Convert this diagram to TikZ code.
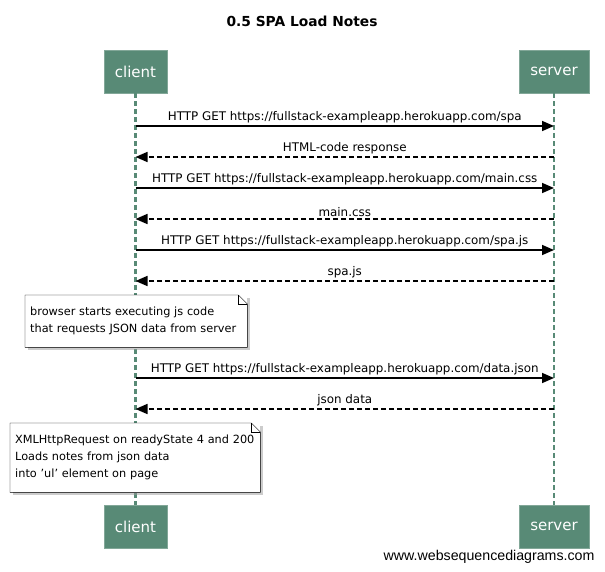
\documentclass[tikz,border=0pt]{standalone}
\usepackage{fontspec}
\setmainfont{DejaVu Sans}
\newfontfamily\footfont{Liberation Sans}
\usetikzlibrary{arrows.meta, shadows}

\definecolor{actorgreen}{RGB}{88,138,118}

\tikzset{
    actor/.style={fill=actorgreen, draw=actorgreen!75!white, text=white, inner xsep=11pt, minimum height=43pt, font=\fontsize{15}{17}\selectfont},
    lifeline/.style={actorgreen, line width=2.5pt, dash pattern=on 5pt off 3pt},
    msg/.style={line width=1.6pt, -{Triangle[length=12pt, width=10pt]}},
    reply/.style={msg, dash pattern=on 5pt off 3pt},
    msglabel/.style={midway, above, inner sep=2pt, font=\fontsize{11.9}{13}\selectfont},
    notebox/.style={anchor=north west, fill=white, align=left, inner xsep=5pt, font=\fontsize{11.3}{17}\selectfont,
        drop shadow={shadow xshift=3pt, shadow yshift=-3pt, fill=black!40}},
}

\begin{document}
\begin{tikzpicture}[x=1pt, y=-1pt]
    \useasboundingbox (0,0) rectangle (605,572);

    \node[font=\bfseries\fontsize{13.8}{15}\selectfont] (title) at (302,21) {0.5 SPA Load Notes};

    % participants
    \node[actor] (clientTop) at (135.5,71.5) {client};
    \node[actor] (serverTop) at (554,71.5) {server};
    \node[actor] (clientBot) at (135.5,526.5) {client};
    \node[actor] (serverBot) at (554,526.5) {server};

    \draw[lifeline] (clientTop.south) -- (clientBot.north);
    \draw[lifeline] (serverTop.south) -- (serverBot.north);

    % message ends on the lifelines
    \coordinate (c1) at (135.5,126);  \coordinate (s1) at (554,126);
    \coordinate (c2) at (135.5,157);  \coordinate (s2) at (554,157);
    \coordinate (c3) at (135.5,188);  \coordinate (s3) at (554,188);
    \coordinate (c4) at (135.5,219);  \coordinate (s4) at (554,219);
    \coordinate (c5) at (135.5,250);  \coordinate (s5) at (554,250);
    \coordinate (c6) at (135.5,281);  \coordinate (s6) at (554,281);
    \coordinate (c7) at (135.5,378);  \coordinate (s7) at (554,378);
    \coordinate (c8) at (135.5,409);  \coordinate (s8) at (554,409);

    \draw[msg] (c1) -- (s1) node[msglabel] {HTTP GET https://fullstack-exampleapp.herokuapp.com/spa};
    \draw[reply] (s2) -- (c2) node[msglabel] {HTML-code response};
    \draw[msg] (c3) -- (s3) node[msglabel] {HTTP GET https://fullstack-exampleapp.herokuapp.com/main.css};
    \draw[reply] (s4) -- (c4) node[msglabel] {main.css};
    \draw[msg] (c5) -- (s5) node[msglabel] {HTTP GET https://fullstack-exampleapp.herokuapp.com/spa.js};
    \draw[reply] (s6) -- (c6) node[msglabel] {spa.js};

    % notes
    \node[notebox, text width=212pt, minimum height=52pt] (note1) at (25,295)
        {browser starts executing js code\\that requests JSON data from server};
    \draw (note1.north west) -- ([xshift=-9pt]note1.north east) -- ([yshift=-9pt]note1.north east)
        -- (note1.south east) -- (note1.south west) -- cycle;
    \draw ([xshift=-9pt]note1.north east) |- ([yshift=-9pt]note1.north east);

    \draw[msg] (c7) -- (s7) node[msglabel] {HTTP GET https://fullstack-exampleapp.herokuapp.com/data.json};
    \draw[reply] (s8) -- (c8) node[msglabel] {json data};

    \node[notebox, text width=240pt, minimum height=69pt] (note2) at (10,423)
        {XMLHttpRequest on readyState 4 and 200\\Loads notes from json data\\into 'ul' element on page};
    \draw (note2.north west) -- ([xshift=-9pt]note2.north east) -- ([yshift=-9pt]note2.north east)
        -- (note2.south east) -- (note2.south west) -- cycle;
    \draw ([xshift=-9pt]note2.north east) |- ([yshift=-9pt]note2.north east);

    \node[anchor=east, font=\footfont\fontsize{14.2}{16}\selectfont] (footer) at (598,557) {www.websequencediagrams.com};
\end{tikzpicture}
\end{document}
